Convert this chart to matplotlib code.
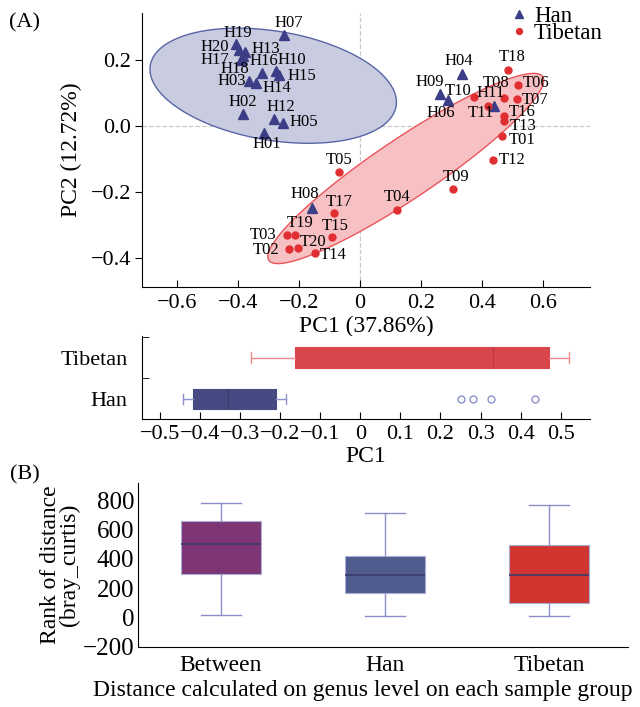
import numpy as np
import matplotlib
matplotlib.use('Agg')
import matplotlib.pyplot as plt

plt.rcParams['font.family'] = ['Liberation Serif', 'DejaVu Serif']

# ---- PCoA scores ----
han_ids = ['H%02d' % i for i in range(1, 21)]
han_pc1 = [-0.315, -0.383, -0.363, 0.333, -0.253, 0.290, -0.251, -0.156, 0.262, -0.276,
           0.440, -0.281, -0.376, -0.341, -0.267, -0.320, -0.390, -0.383, -0.406, -0.397]
han_pc2 = [-0.020, 0.036, 0.136, 0.157, 0.011, 0.079, 0.276, -0.247, 0.099, 0.166,
           0.062, 0.023, 0.225, 0.131, 0.156, 0.160, 0.202, 0.212, 0.248, 0.230]

tib_ids = ['T%02d' % i for i in range(1, 21)]
tib_pc1 = [0.464, -0.232, -0.240, 0.120, -0.068, 0.519, 0.516, 0.473, 0.306, 0.372,
           0.421, 0.437, 0.472, -0.148, -0.093, 0.472, -0.084, 0.486, -0.213, -0.202]
tib_pc2 = [-0.029, -0.371, -0.328, -0.253, -0.140, 0.124, 0.081, 0.086, -0.189, 0.089,
           0.062, -0.103, 0.016, -0.384, -0.335, 0.030, -0.263, 0.170, -0.330, -0.369]

# PC1 box summary: whislo, q1, med, q3, whishi
pc1_box_tib = [-0.272, -0.162, 0.330, 0.470, 0.520]
pc1_box_han = [-0.443, -0.418, -0.331, -0.210, -0.185]
pc1_fliers_han = [0.252, 0.280, 0.327, 0.436]

# rank of distance boxes
dist_groups = ['Between', 'Han', 'Tibetan']
dist_box = [[18, 295, 501, 660, 782],
            [7, 166, 293, 418, 714],
            [7, 100, 289, 494, 769]]

# label offsets in pixels (right, down)
lab_off = {
    'H01': (3, 11), 'H02': (0, -12), 'H03': (-18, 0), 'H04': (-3, -13), 'H05': (21, -1),
    'H06': (-8, 13), 'H07': (5, -12), 'H08': (-8, -14), 'H09': (-10, -12), 'H10': (16, -11),
    'H11': (-4, -13), 'H12': (6, -12), 'H13': (20, -3), 'H14': (21, 5), 'H15': (23, 1),
    'H16': (1, -12), 'H17': (-26, 0), 'H18': (-8, 13), 'H19': (2, -11), 'H20': (-24, -3),
    'T01': (21, 4), 'T02': (-23, 1), 'T03': (-24, 0), 'T04': (0, -13), 'T05': (0, -12),
    'T06': (18, -2), 'T07': (18, 1), 'T08': (-8, -15), 'T09': (3, -12), 'T10': (-15, -6),
    'T11': (-8, 7), 'T12': (19, 0), 'T13': (19, 5), 'T14': (18, 2), 'T15': (3, -11),
    'T16': (18, -4), 'T17': (5, -11), 'T18': (4, -13), 'T19': (5, -12), 'T20': (15, -6),
}

han_col = '#3b3d86'
tib_col = '#e02f32'

fig = plt.figure(figsize=(6.4, 7.07), dpi=100)

# ---------------- (A) PCoA scatter ----------------
ax = fig.add_axes([142 / 640, 420 / 707, 448 / 640, 274 / 707])
t = np.linspace(0, 2 * np.pi, 300)
# Han ellipse: centre, two conjugate semi-axes
ex = -0.2848 + 0.403 * np.cos(t) - 0.0291 * np.sin(t)
ey = 0.1227 - 0.0618 * np.cos(t) - 0.163 * np.sin(t)
ax.fill(ex, ey, facecolor='#c9cbe1', edgecolor='#5866a6', lw=1.0, zorder=1)
# Tibetan ellipse
ex = 0.150 + 0.449 * np.cos(t) + 0.0546 * np.sin(t)
ey = -0.128 + 0.278 * np.cos(t) - 0.0756 * np.sin(t)
ax.fill(ex, ey, facecolor='#f7c1c3', edgecolor='#e8555a', lw=1.0, zorder=1)

ax.axhline(0, color='#c8c8c8', ls='--', lw=0.9, zorder=0)
ax.axvline(0, color='#c8c8c8', ls='--', lw=0.9, zorder=0)

ax.plot(han_pc1, han_pc2, '^', color=han_col, ms=7, ls='none', label='Han', zorder=3)
ax.plot(tib_pc1, tib_pc2, 'o', color=tib_col, ms=5, ls='none', label='Tibetan', zorder=3)

for ids, xs, ys in [(han_ids, han_pc1, han_pc2), (tib_ids, tib_pc1, tib_pc2)]:
    for name, x, y in zip(ids, xs, ys):
        dx, dy = lab_off[name]
        ax.annotate(name, (x, y), xytext=(dx, -dy), textcoords='offset pixels',
                    ha='center', va='center', fontsize=12, zorder=4)

ax.set_xlim(-0.715, 0.754)
ax.set_ylim(-0.487, 0.343)
ax.set_xticks([-0.6, -0.4, -0.2, 0, 0.2, 0.4, 0.6])
ax.set_xticklabels(['\u22120.6', '\u22120.4', '\u22120.2', '0', '0.2', '0.4', '0.6'])
ax.set_yticks([-0.4, -0.2, 0.0, 0.2])
ax.set_yticklabels(['\u22120.4', '\u22120.2', '0.0', '0.2'])
ax.tick_params(axis='x', direction='in', length=5, labelsize=16, pad=5)
ax.tick_params(axis='y', direction='out', length=5, labelsize=16, pad=3)
for s in ['top', 'right']:
    ax.spines[s].set_visible(False)
ax.set_xlabel('PC1 (37.86%)', fontsize=17, labelpad=2)
ax.set_ylabel('PC2 (12.72%)', fontsize=17, labelpad=6)
ax.legend(loc='upper left', bbox_to_anchor=(0.78, 1.085), frameon=False, fontsize=16.5,
          handletextpad=0.15, handlelength=1.0, borderpad=0.2, labelspacing=-0.15,
          markerscale=0.85)

fig.text(25 / 640, 1 - 23 / 707, '(A)', fontsize=16, ha='center', va='center')

# ---------------- PC1 boxplot ----------------
bx = fig.add_axes([141.7 / 640, 288 / 707, (590 - 141.7) / 640, 83 / 707])


def stats(v, fl=()):
    return dict(whislo=v[0], q1=v[1], med=v[2], q3=v[3], whishi=v[4], fliers=list(fl))


pc1_sets = [(pc1_box_han, pc1_fliers_han, '#474a82', '#8d92cc', '#3a3d6e'),
            (pc1_box_tib, [], '#d8464b', '#f08a8c', '#c23a3f')]
for pos, (v, fl, fc, wc, mc) in enumerate(pc1_sets):
    bx.bxp([stats(v, fl)], positions=[pos], widths=0.5, vert=False, patch_artist=True,
           capwidths=0.25,
           boxprops=dict(facecolor=fc, edgecolor=fc, lw=0.8),
           whiskerprops=dict(color=wc, lw=1.0),
           capprops=dict(color=wc, lw=1.0),
           medianprops=dict(color=mc, lw=1.0),
           flierprops=dict(marker='o', mfc='none', mec='#8d92cc', ms=5, mew=1.0))
bx.set_xlim(-0.545, 0.573)
bx.set_ylim(-0.48, 1.52)
bx.set_yticks([0, 1])
bx.set_yticklabels(['Han', 'Tibetan'])
bx.set_yticks([0.5, 1.5], minor=True)
bx.tick_params(axis='y', which='major', length=0, labelsize=16, pad=10)
bx.tick_params(axis='y', which='minor', direction='in', length=5)
bx.set_xticks(np.arange(-0.5, 0.51, 0.1))
bx.set_xticklabels(['\u22120.5', '\u22120.4', '\u22120.3', '\u22120.2', '\u22120.1', '0',
                    '0.1', '0.2', '0.3', '0.4', '0.5'])
bx.tick_params(axis='x', direction='in', length=5, labelsize=16, pad=4)
for s in ['top', 'right']:
    bx.spines[s].set_visible(False)
bx.set_xlabel('PC1', fontsize=17, labelpad=2)

# ---------------- (B) distance ranks ----------------
cx = fig.add_axes([138.3 / 640, 60.3 / 707, 490 / 640, 164 / 707])
dist_cols = ['#7d3576', '#515c8e', '#d0362f']
for pos, (v, fc) in enumerate(zip(dist_box, dist_cols)):
    cx.bxp([stats(v)], positions=[pos], widths=0.49, patch_artist=True, capwidths=0.245,
           boxprops=dict(facecolor=fc, edgecolor='#a9acd6', lw=0.8),
           whiskerprops=dict(color='#8d90c8', lw=1.0),
           capprops=dict(color='#8d90c8', lw=1.0),
           medianprops=dict(color='#3a3c6c', lw=1.2),
           showfliers=False)
cx.set_xlim(-0.503, 2.485)
cx.set_ylim(-200, 920)
cx.set_yticks([-200, 0, 200, 400, 600, 800])
cx.set_yticklabels(['\u2212200', '0', '200', '400', '600', '800'])
cx.set_xticks([0, 1, 2])
cx.set_xticklabels(dist_groups)
cx.tick_params(axis='x', length=0, labelsize=17, pad=6)
cx.tick_params(axis='y', length=0, labelsize=18, pad=3)
for s in ['top', 'right']:
    cx.spines[s].set_visible(False)
cx.set_ylabel('Rank of distance\n(bray_curtis)', fontsize=17, linespacing=0.85, labelpad=2)
cx.set_xlabel('Distance calculated on genus level on each sample group', fontsize=17,
              labelpad=4)
cx.xaxis.set_label_coords((363 - 138.3) / 490, -0.205)
fig.text(25 / 640, 1 - 475 / 707, '(B)', fontsize=16, ha='center', va='center')

fig.savefig('out.png', dpi=100)
